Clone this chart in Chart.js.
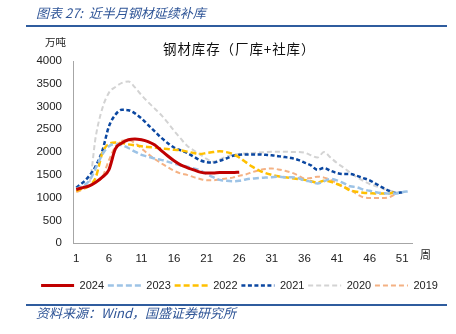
<!DOCTYPE html>
<html><head><meta charset="utf-8">
<script src="https://cdn.jsdelivr.net/npm/chart.js@4/dist/chart.umd.min.js"></script>
<style>
html,body{margin:0;padding:0;background:#fff;width:456px;height:334px;overflow:hidden;}
#wrap{position:relative;width:456px;height:334px;}
canvas{position:absolute;left:0;top:0;}
.t{position:absolute;white-space:nowrap;font-family:"Noto Sans CJK SC",sans-serif;line-height:1;}
.rule{position:absolute;left:26px;width:421px;height:2px;background:#2F5C9E;}
</style></head>
<body><div id="wrap">
<canvas id="c" width="456" height="334"></canvas>
<div class="t" style="left:36px;top:6px;font-size:13px;color:#2F5597;font-style:italic;">图表 27:&nbsp; 近半月钢材延续补库</div>
<div class="rule" style="top:25px;"></div>
<div class="t" style="left:45px;top:37px;font-size:10.5px;color:#222;">万吨</div>
<div class="t" style="left:163px;top:42px;font-size:13.5px;color:#111;letter-spacing:0.9px;">钢材库存（厂库+社库）</div>
<div class="t" style="left:420px;top:249px;font-size:11px;color:#222;">周</div>
<div class="rule" style="top:304px;"></div>
<div class="t" style="left:36px;top:306px;font-size:13px;color:#2F5597;font-style:italic;">资料来源：Wind，国盛证券研究所</div>
</div>
<script>
const weeks = Array.from({length: 52}, (_, i) => String(i + 1));
const s2024 = [1180,1220,1260,1340,1450,1610,2070,2200,2270,2290,2270,2230,2160,2040,1920,1810,1720,1660,1610,1560,1540,1540,1550,1550,1550,1560];
const s2023 = [1190,1260,1370,1650,1950,2130,2180,2150,2090,2010,1940,1900,1860,1830,1790,1750,1710,1680,1640,1600,1520,1450,1390,1370,1360,1370,1400,1420,1430,1440,1450,1460,1450,1450,1430,1380,1350,1310,1360,1410,1380,1320,1250,1230,1180,1150,1120,1100,1090,1090,1120,1140];
const s2022 = [1150,1200,1260,1450,1980,2180,2210,2200,2170,2150,2130,2110,2100,2080,2070,2050,2040,2010,1980,1960,1980,2000,2020,2000,1960,1880,1780,1680,1600,1540,1500,1470,1450,1430,1410,1390,1360,1330,1370,1350,1300,1240,1160,1130,1110,1100,1090,1090,1090,1130];
const s2021 = [1220,1330,1480,1700,2030,2560,2820,2930,2920,2850,2740,2600,2460,2320,2200,2100,2040,1980,1900,1820,1780,1770,1810,1860,1920,1940,1950,1950,1950,1940,1930,1910,1890,1870,1830,1770,1710,1610,1650,1590,1540,1520,1520,1480,1430,1380,1300,1220,1150,1100,1120];
const s2020 = [1170,1250,1330,2350,2960,3300,3430,3520,3550,3420,3250,3100,2960,2820,2650,2470,2300,2140,2040,1950,1850,1790,1840,1900,1940,1960,1970,1980,1990,2000,2010,2010,2010,2000,2000,1990,1930,1880,2000,1880,1760,1660,1550,1450,1370,1300,1250,1200,1160,1120,1100];
const s2019 = [1120,1180,1250,1350,1450,1820,2120,2250,2260,2200,2080,1960,1850,1760,1670,1590,1530,1500,1450,1410,1380,1380,1400,1420,1440,1480,1510,1560,1600,1630,1640,1620,1590,1550,1490,1420,1430,1460,1440,1390,1310,1240,1180,1080,1010,990,990,990,1010,1080];
const yTicks = [0,500,1000,1500,2000,2500,3000,3500,4000];

function ds(label, data, color, width, dash) {
  return {label, data, borderColor: color, backgroundColor: color, borderWidth: width,
    borderDash: dash, pointRadius: 0, pointHoverRadius: 0, cubicInterpolationMode: 'monotone',
    fill: false, pointStyle: 'line', yAxisID: 'y'};
}
new Chart(document.getElementById('c'), {
  type: 'line',
  data: {labels: weeks, datasets: [
    ds('2024', s2024, '#C00000', 3, []),
    ds('2023', s2023, '#9DC3E6', 2.5, [6,3]),
    ds('2022', s2022, '#FFC000', 2.5, [6,3]),
    ds('2021', s2021, '#0B47A1', 2.5, [4,2.5]),
    ds('2020', s2020, '#D3D3D3', 2, [5,3]),
    ds('2019', s2019, '#F4B183', 2, [5,3])
  ]},
  options: {
    responsive: false, animation: false, devicePixelRatio: 1,
    layout: {padding: {left: 23, right: 0, top: 61, bottom: 33}},
    plugins: {
      title: {display: false}, tooltip: {enabled: false},
      legend: {position: 'bottom', align: 'center',
        labels: {usePointStyle: true, pointStyle: 'line', pointStyleWidth: 33, boxHeight: 11, padding: 3.8,
          color: '#222', font: {family: 'Liberation Sans', size: 11},
          generateLabels: chart => chart.data.datasets.map((d, i) => ({
            text: d.label, fillStyle: d.borderColor, strokeStyle: d.borderColor,
            lineWidth: d.borderWidth, lineDash: d.borderDash, lineCap: 'butt',
            pointStyle: 'line', hidden: false, datasetIndex: i, fontColor: '#222'
          }))}}
    },
    scales: {
      x: {type: 'category', offset: true,
        grid: {display: false, drawTicks: false},
        border: {display: true, color: '#A6A6A6', width: 1},
        ticks: {autoSkip: false, maxRotation: 0, padding: 9, color: '#222',
          font: {family: 'Liberation Sans', size: 11.5},
          callback: (v, i) => (i % 5 === 0 ? weeks[i] : '')},
        afterFit: s => { s.height = 33; }
      },
      y: {position: 'left', min: 0, max: 4000,
        grid: {display: false, drawTicks: false},
        border: {display: true, color: '#A6A6A6', width: 1},
        afterBuildTicks: s => { s.ticks = yTicks.map(v => ({value: v})); },
        ticks: {padding: 11, color: '#222', font: {family: 'Liberation Sans', size: 11.5},
          callback: v => String(v)},
        afterFit: s => { s.width = 50; }
      },
      y2: {position: 'right', display: true, min: 0, max: 4000,
        grid: {display: false, drawTicks: false}, border: {display: false},
        ticks: {display: false},
        afterFit: s => { s.width = 44; }
      }
    }
  }
});
</script>
</body></html>
